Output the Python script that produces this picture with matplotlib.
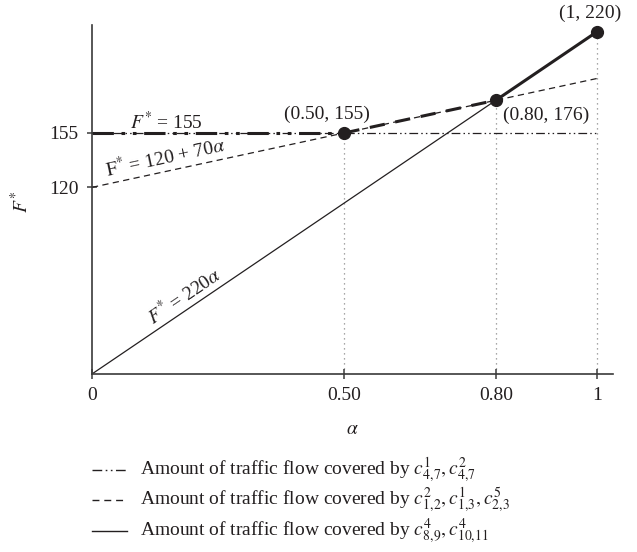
import numpy as np
import matplotlib.pyplot as plt
from matplotlib.lines import Line2D

plt.rcParams['font.family'] = ['Liberation Serif', 'DejaVu Serif']
plt.rcParams['mathtext.fontset'] = 'stix'
plt.rcParams['font.size'] = 14

# full lines over alpha in [0, 1]
alpha_line = [0.0, 1.0]
const_F = [155, 155]          # F* = 155
dash_F = [120, 190]           # F* = 120 + 70a
solid_F = [0, 220]            # F* = 220a

# upper envelope and its break points
env_alpha = [0.0, 0.50, 0.80, 1.0]
env_F = [155, 155, 176, 220]
pt_alpha = [0.50, 0.80, 1.0]
pt_F = [155, 176, 220]
pt_labels = ['(0.50, 155)', '(0.80, 176)', '(1, 220)']

x_ticks = [0, 0.50, 0.80, 1]
x_ticklabels = ['0', '0.50', '0.80', '1']
y_ticks = [120, 155]

legend_labels = [
    r'Amount of traffic flow covered by $c^{1}_{4,\!7}, c^{2}_{4,\!7}$',
    r'Amount of traffic flow covered by $c^{2}_{1,\!2}, c^{1}_{1,\!3}, c^{5}_{2,\!3}$',
    r'Amount of traffic flow covered by $c^{4}_{8,\!9}, c^{4}_{10,\!11}$',
]

ink = '#231f20'
dashdotdot = (0, (7, 2.5, 1.2, 2.5, 1.2, 2.5))
dashed = (0, (5, 3.5))
styles = [dashdotdot, dashed, '-']

fig = plt.figure(figsize=(6.37, 5.52), dpi=100)
ax = fig.add_axes([0.1444, 0.3225, 0.8179, 0.6322])
ax.set_xlim(0, 1.032)
ax.set_ylim(0, 224.4)

# dotted guides down to the axis
for a, f in zip(pt_alpha, pt_F):
    ax.plot([a, a], [0, f], color='#8a8a8a', lw=0.9, ls=(0, (1, 3)), zorder=1)

ax.plot(alpha_line, const_F, color=ink, lw=0.9, ls=styles[0])
ax.plot(alpha_line, dash_F, color=ink, lw=0.9, ls=styles[1])
ax.plot(alpha_line[:1] + [pt_alpha[1]], [solid_F[0], solid_F[1] * pt_alpha[1]],
        color=ink, lw=0.9, ls=styles[2])

# thick envelope segments
ax.plot(env_alpha[0:2], env_F[0:2], color=ink, lw=2.2, ls=dashdotdot)
ax.plot(env_alpha[1:3], env_F[1:3], color=ink, lw=2.2, ls=dashed)
ax.plot(env_alpha[2:4], env_F[2:4], color=ink, lw=2.2, solid_capstyle='butt')
ax.plot(pt_alpha, pt_F, 'o', color=ink, ms=8.5, zorder=5, clip_on=False)

ax.text(0.465, 167, pt_labels[0], ha='center', va='center', color=ink)
ax.text(0.899, 166, pt_labels[1], ha='center', va='center', color=ink)
ax.text(0.986, 232, pt_labels[2], ha='center', va='center', color=ink, clip_on=False)

# line equations
ax.text(0.147, 162, r'$F^{*}$ = 155', ha='center', va='center', color=ink)
ax.text(0.15, 120 + 70 * 0.15 + 1.5, r'$\mathrm{F}^{*}$ = 120 + 70$\alpha$',
        ha='center', va='bottom', rotation=np.degrees(np.arctan(70)),
        rotation_mode='anchor', transform_rotates_text=True, color=ink)
ax.text(0.195, 220 * 0.195 + 1.5, r'$F^{*}$ = 220$\alpha$',
        ha='center', va='bottom', rotation=np.degrees(np.arctan(220)),
        rotation_mode='anchor', transform_rotates_text=True, color=ink)

for s in ['top', 'right']:
    ax.spines[s].set_visible(False)
for s in ['left', 'bottom']:
    ax.spines[s].set_color('#3a3a3a')
    ax.spines[s].set_linewidth(1.2)

ax.set_xticks(x_ticks)
ax.set_xticklabels(x_ticklabels)
ax.set_yticks(y_ticks)
ax.tick_params(direction='inout', length=7, width=1.1, color='#3a3a3a',
               labelcolor=ink, pad=6)

ax.set_xlabel(r'$\alpha$', color=ink)
ax.xaxis.set_label_coords(0.5, -0.135)
ax.set_ylabel(r'$F^{*}$', color=ink)
ax.yaxis.set_label_coords(-0.115, 0.493)

# legend below the axes, one row per line style
row_y = [470, 500, 531]
H = 552.0
for ls, lab, yy in zip(styles, legend_labels, row_y):
    fy = 1 - yy / H
    fig.add_artist(Line2D([92 / 637, 127 / 637], [fy, fy], transform=fig.transFigure,
                          color=ink, lw=1.0, ls=ls))
    fig.text(140 / 637, 1 - (yy + 5) / H, lab, ha='left', va='baseline', color=ink)

fig.savefig('out.png', dpi=100)
